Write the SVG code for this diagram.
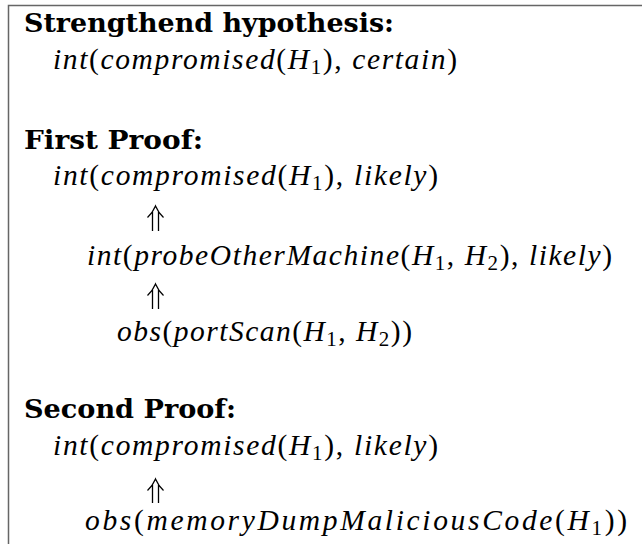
<svg xmlns="http://www.w3.org/2000/svg" width="642" height="544" viewBox="0 0 642 544">
<style>
.b{font-family:"DejaVu Serif","Liberation Serif",serif;font-weight:bold;font-size:25.5px;fill:#000}
.m{font-family:"Liberation Serif","DejaVu Serif",serif;font-size:29.5px;fill:#000}
.i{font-style:italic}
.s{font-size:21px}
.arr{fill:none;stroke:#000;stroke-width:1.3}
</style>
<rect x="0" y="0" width="642" height="544" fill="#fff"/>
<path d="M8.5,544 V5.5 H642" fill="none" stroke="#666" stroke-width="1.5"/>
<g id="hyp-title"><text class="b" x="24" y="31.5" textLength="370" lengthAdjust="spacingAndGlyphs">Strengthend hypothesis:</text></g>
<g id="hyp"><text class="m" x="53" y="68.5" textLength="404" lengthAdjust="spacing"><tspan class="i">int</tspan>(<tspan class="i">compromised</tspan>(<tspan class="i">H</tspan><tspan class="s" dy="5">1</tspan><tspan dy="-5">),</tspan> <tspan class="i">certain</tspan>)</text></g>
<g id="p1-title"><text class="b" x="24" y="148.5" textLength="179" lengthAdjust="spacingAndGlyphs">First Proof:</text></g>
<g id="p1-n1"><text class="m" x="53" y="185" textLength="385" lengthAdjust="spacing"><tspan class="i">int</tspan>(<tspan class="i">compromised</tspan>(<tspan class="i">H</tspan><tspan class="s" dy="5">1</tspan><tspan dy="-5">),</tspan> <tspan class="i">likely</tspan>)</text></g>
<g id="p1-n2"><text class="m" x="87" y="264.5" textLength="525" lengthAdjust="spacing"><tspan class="i">int</tspan>(<tspan class="i">probeOtherMachine</tspan>(<tspan class="i">H</tspan><tspan class="s" dy="5">1</tspan><tspan dy="-5">,</tspan> <tspan class="i">H</tspan><tspan class="s" dy="5">2</tspan><tspan dy="-5">),</tspan> <tspan class="i">likely</tspan>)</text></g>
<g id="p1-n3"><text class="m" x="117" y="341" textLength="295" lengthAdjust="spacing"><tspan class="i">obs</tspan>(<tspan class="i">portScan</tspan>(<tspan class="i">H</tspan><tspan class="s" dy="5">1</tspan><tspan dy="-5">,</tspan> <tspan class="i">H</tspan><tspan class="s" dy="5">2</tspan><tspan dy="-5">))</tspan></text></g>
<g id="p2-title"><text class="b" x="24" y="418" textLength="212" lengthAdjust="spacingAndGlyphs">Second Proof:</text></g>
<g id="p2-n1"><text class="m" x="53" y="455" textLength="385" lengthAdjust="spacing"><tspan class="i">int</tspan>(<tspan class="i">compromised</tspan>(<tspan class="i">H</tspan><tspan class="s" dy="5">1</tspan><tspan dy="-5">),</tspan> <tspan class="i">likely</tspan>)</text></g>
<g id="p2-n2"><text class="m" x="85" y="530" textLength="542" lengthAdjust="spacing"><tspan class="i">obs</tspan>(<tspan class="i">memoryDumpMaliciousCode</tspan>(<tspan class="i">H</tspan><tspan class="s" dy="5">1</tspan><tspan dy="-5">))</tspan></text></g>
<g id="connectors">
<path class="arr" d="M152.5,212 V231 M158.5,212 V231 M147.5,217.5 Q152.5,213 155.5,206 Q158.5,213 163.5,217.5"/>
<path class="arr" d="M152.5,290 V309 M158.5,290 V309 M147.5,295.5 Q152.5,291 155.5,284 Q158.5,291 163.5,295.5"/>
<path class="arr" d="M152.5,485 V503 M158.5,485 V503 M147.5,490.5 Q152.5,486 155.5,479 Q158.5,486 163.5,490.5"/>
</g>
</svg>
